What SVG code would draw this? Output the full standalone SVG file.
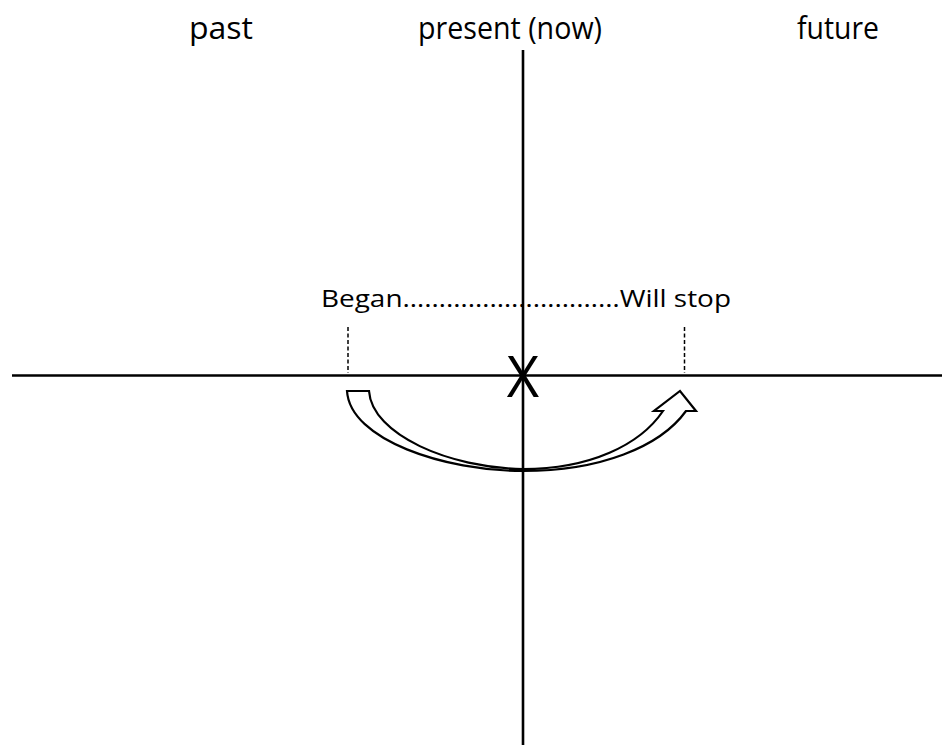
<svg xmlns="http://www.w3.org/2000/svg" width="942" height="756" viewBox="0 0 942 756">
<style>
.lbl{font-family:"Open Sans","Noto Sans",sans-serif;fill:#000}
.axis{stroke:#000;stroke-width:2.6;fill:none}
.dash{stroke:#000;stroke-width:1.5;stroke-dasharray:4 2.5;fill:none}
</style>
<rect width="942" height="756" fill="#fff"/>
<g id="labels">
<text class="lbl" x="189" y="39" font-size="31" textLength="64" lengthAdjust="spacingAndGlyphs">past</text>
<text class="lbl" x="418" y="39" font-size="31" textLength="184" lengthAdjust="spacingAndGlyphs">present (now)</text>
<text class="lbl" x="797" y="39" font-size="31" textLength="82" lengthAdjust="spacingAndGlyphs">future</text>
<text class="lbl" x="321" y="307" font-size="24" textLength="410" lengthAdjust="spacingAndGlyphs">Began…………………………Will stop</text>
</g>
<g id="axes">
<line class="axis" x1="523" y1="50" x2="523" y2="745"/>
<line class="axis" x1="12" y1="375.5" x2="942" y2="375.5"/>
</g>
<g id="markers">
<line class="dash" x1="348" y1="327" x2="348" y2="373"/>
<line class="dash" x1="684.5" y1="327" x2="684.5" y2="373"/>
<text class="lbl" x="523" y="397" font-size="56" text-anchor="middle">X</text>
</g>
<g id="connectors">
<path d="M347,391 L369,391 C372,435 450,468 523,469 C590,469 640,445 663,411 L654,411 L680,391 L696,411 L686,411 C660,447 600,471 523,471 C445,471 350,440 347,391 Z" fill="#fff" stroke="#000" stroke-width="2.2" stroke-linejoin="miter"/>
</g>
</svg>
